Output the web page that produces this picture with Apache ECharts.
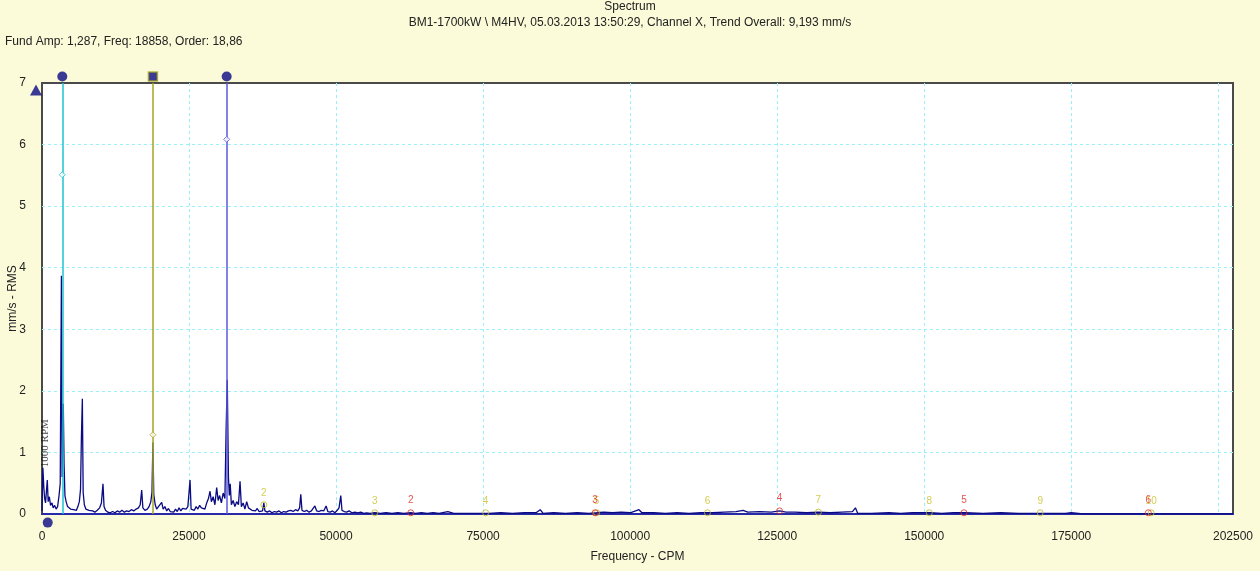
<!DOCTYPE html>
<html>
<head>
<meta charset="utf-8">
<script src="https://cdn.jsdelivr.net/npm/echarts@6/dist/echarts.min.js"></script>
<style>
  html, body { margin: 0; padding: 0; background: #FBFBD9; }
  #chart { width: 1260px; height: 571px; }
</style>
</head>
<body>
<div id="chart"></div>
<script>
// Vibration spectrum: frequency (CPM) and amplitude (mm/s RMS)
const freqCPM = [
  0, 150, 300, 450, 600, 900, 1050, 1250, 1450, 1700, 1900, 2150, 2400, 2650, 2900, 3100, 3300, 3420, 3620, 3750,
  3900, 4100, 4350, 4600, 4850, 5100, 5350, 5600, 5850, 6100, 6350, 6550, 6700, 6860, 7000, 7200, 7450, 7700, 8000, 8300,
  8600, 9000, 9400, 9800, 10100, 10370, 10550, 10800, 11200, 11600, 12000, 12400, 12800, 13200, 13600, 14000, 14400, 14800, 15200, 15600,
  16000, 16400, 16700, 16950, 17150, 17500, 17900, 18200, 18500, 18700, 18858, 19000, 19250, 19500, 19800, 20050, 20350, 20600, 20900, 21200,
  21500, 21800, 22100, 22400, 22700, 23000, 23300, 23600, 23900, 24200, 24500, 24800, 25170, 25350, 25600, 25900, 26200, 26500, 26800, 27100,
  27400, 27700, 28000, 28300, 28570, 28800, 29100, 29400, 29700, 29950, 30200, 30500, 30800, 31100, 31300, 31500, 31700, 31850, 32000, 32200,
  32500, 32800, 33100, 33400, 33670, 33900, 34200, 34500, 34800, 35100, 35400, 35700, 36000, 36300, 36600, 36900, 37200, 37500, 37716, 37900,
  38300, 38700, 39100, 39500, 39900, 40300, 40700, 41100, 41500, 41900, 42300, 42700, 43100, 43500, 43800, 44000, 44200, 44600, 45000, 45400,
  45800, 46100, 46400, 46700, 47100, 47500, 47900, 48300, 48600, 49000, 49400, 49800, 50200, 50500, 50800, 51000, 51400, 51800, 52200, 52700,
  53200, 53700, 54200, 54700, 55200, 55800, 56574, 57500, 58500, 59500, 60500, 61500, 62700, 63500, 64500, 65500, 66500, 67500, 69000, 70000,
  72000, 74000, 76000, 78000, 80000, 82000, 84000, 84700, 85200, 87000, 89000, 91000, 93000, 94300, 95500, 97000, 98500, 100000, 101500, 102000,
  104000, 106000, 108000, 110000, 112000, 114000, 116000, 118000, 119200, 120000, 122000, 124000, 125400, 126500, 128000, 130000, 132000, 134000, 136000, 137800,
  138300, 138700, 141000, 144000, 146000, 148000, 151000, 153000, 155000, 157000, 160000, 163000, 166000, 170000, 174000, 175000, 177000, 202500
];
const ampRMS = [
  0.05, 0.75, 0.45, 0.25, 0.18, 0.55, 0.20, 0.28, 0.14, 0.18, 0.10, 0.14, 0.08, 0.12, 0.30, 0.50, 3.87, 0.60, 1.79, 0.82,
  0.30, 0.20, 0.12, 0.15, 0.08, 0.10, 0.07, 0.09, 0.06, 0.12, 0.20, 0.40, 1.24, 1.87, 0.35, 0.15, 0.08, 0.05, 0.06, 0.04,
  0.05, 0.03, 0.06, 0.10, 0.18, 0.49, 0.12, 0.06, 0.03, 0.02, 0.04, 0.02, 0.05, 0.03, 0.06, 0.03, 0.05, 0.04, 0.07, 0.05,
  0.08, 0.10, 0.15, 0.39, 0.10, 0.06, 0.08, 0.12, 0.20, 0.35, 1.16, 0.32, 0.15, 0.08, 0.12, 0.10, 0.19, 0.08, 0.12, 0.05,
  0.09, 0.04, 0.07, 0.03, 0.08, 0.04, 0.10, 0.05, 0.09, 0.06, 0.08, 0.12, 0.55, 0.08, 0.10, 0.06, 0.12, 0.08, 0.14, 0.10,
  0.13, 0.08, 0.18, 0.25, 0.37, 0.20, 0.28, 0.15, 0.43, 0.22, 0.30, 0.18, 0.34, 0.25, 1.35, 2.18, 0.60, 0.30, 0.49, 0.15,
  0.22, 0.12, 0.20, 0.15, 0.53, 0.12, 0.18, 0.08, 0.20, 0.10, 0.12, 0.06, 0.08, 0.05, 0.09, 0.04, 0.06, 0.05, 0.18, 0.05,
  0.03, 0.05, 0.02, 0.04, 0.03, 0.05, 0.02, 0.04, 0.03, 0.05, 0.06, 0.04, 0.07, 0.05, 0.10, 0.32, 0.06, 0.04, 0.06, 0.03,
  0.05, 0.08, 0.13, 0.05, 0.04, 0.06, 0.05, 0.13, 0.04, 0.03, 0.05, 0.02, 0.06, 0.10, 0.30, 0.06, 0.04, 0.03, 0.05, 0.02,
  0.03, 0.02, 0.03, 0.01, 0.02, 0.01, 0.02, 0.01, 0.02, 0.01, 0.02, 0.01, 0.02, 0.01, 0.02, 0.01, 0.02, 0.01, 0.04, 0.01,
  0.01, 0.01, 0.01, 0.02, 0.01, 0.02, 0.02, 0.07, 0.01, 0.02, 0.01, 0.02, 0.01, 0.02, 0.03, 0.02, 0.03, 0.02, 0.07, 0.02,
  0.02, 0.01, 0.02, 0.01, 0.02, 0.02, 0.03, 0.04, 0.06, 0.03, 0.04, 0.03, 0.05, 0.03, 0.03, 0.02, 0.03, 0.02, 0.03, 0.04,
  0.10, 0.01, 0.01, 0.02, 0.01, 0.02, 0.02, 0.01, 0.02, 0.02, 0.01, 0.02, 0.01, 0.01, 0.01, 0.02, 0.00, 0.00
];

// Cursors
const fundAmp = 1.287;
const fundFreq = 18858;
const cursorFreqs = [3450, 18858, 31400];
const cursorColors = ['#1EC3D2', '#A5A524', '#5A5ADC'];
const cursorDiamondAmps = [5.51, fundAmp, 6.085];

// Harmonic markers
const oliveOrders = [2, 3, 4, 5, 6, 7, 8, 9, 10];
const oliveFreqs = [37716, 56574, 75432, 94290, 113148, 132006, 150864, 169722, 188580];
const oliveAmps = [0.15, 0.02, 0.02, 0.02, 0.02, 0.03, 0.02, 0.02, 0.02];
const redOrders = [2, 3, 4, 5, 6];
const redFreqs = [62700, 94050, 125400, 156750, 188100];
const redAmps = [0.02, 0.02, 0.05, 0.02, 0.02];

// Axis ticks
const yTicks = [0, 1, 2, 3, 4, 5, 6, 7];
const xTickStep = 25000;
const xMax = 202500;

const FONT = 'Liberation Sans, Arial, sans-serif';
const NAVY = '#0A0A82';

const chart = echarts.init(document.getElementById('chart'), null, { renderer: 'canvas' });

const spectrum = freqCPM.map((f, i) => [f, ampRMS[i]]);

const option = {
  animation: false,
  backgroundColor: '#FBFBD9',
  textStyle: { fontFamily: FONT },
  title: [
    {
      text: 'Spectrum',
      subtext: 'BM1-1700kW \\ M4HV, 05.03.2013 13:50:29, Channel X, Trend Overall: 9,193 mm/s',
      left: 'center', top: 0, itemGap: 1, padding: 0,
      textStyle: { fontSize: 12, fontWeight: 'normal', color: '#222', fontFamily: FONT, lineHeight: 14 },
      subtextStyle: { fontSize: 12, color: '#222', fontFamily: FONT, lineHeight: 16 }
    },
    {
      text: 'Fund Amp: 1,287, Freq: ' + fundFreq + ', Order: 18,86',
      left: 5, top: 36, padding: 0,
      textStyle: { fontSize: 12, fontWeight: 'normal', color: '#222', fontFamily: FONT }
    }
  ],
  grid: {
    left: 42, right: 27, top: 83, bottom: 57,
    outerBoundsMode: 'none', containLabel: false,
    show: true, backgroundColor: '#FFFFFF', borderColor: '#4A4A4A', borderWidth: 2
  },
  xAxis: {
    type: 'value', min: 0, max: xMax, interval: xTickStep,
    name: 'Frequency - CPM', nameLocation: 'middle', nameGap: 37, nameMoveOverlap: false,
    nameTextStyle: { fontSize: 12, color: '#222' },
    axisLine: { show: true, onZero: false, lineStyle: { color: '#2A2AA8', width: 2 } },
    axisTick: { show: false },
    axisLabel: {
      margin: 17, fontSize: 12, color: '#222', showMaxLabel: true,
      formatter: v => (v === 200000 ? '' : String(v))
    },
    splitLine: { show: true, showMinLine: false, showMaxLine: false, lineStyle: { color: '#9AF0FA', type: [3, 3], width: 1 } }
  },
  yAxis: {
    type: 'value', min: yTicks[0], max: yTicks[yTicks.length - 1], interval: 1,
    name: 'mm/s - RMS', nameLocation: 'middle', nameGap: 23, nameRotate: 90, nameMoveOverlap: false,
    nameTextStyle: { fontSize: 12, color: '#222' },
    axisLine: { show: false },
    axisTick: { show: false },
    axisLabel: { margin: 16, fontSize: 12, color: '#222' },
    splitLine: { show: true, showMinLine: false, showMaxLine: false, lineStyle: { color: '#9AF0FA', type: [3, 3], width: 1 } }
  },
  series: [
    {
      // cursor lines
      type: 'line', data: [], z: 2, silent: true,
      markLine: {
        symbol: 'none', silent: true, animation: false,
        label: { show: false },
        data: cursorFreqs.map((f, i) => ({ xAxis: f, lineStyle: { color: cursorColors[i], width: 1.5, type: 'solid' } }))
      }
    },
    {
      name: 'spectrum', type: 'line', data: spectrum, z: 3,
      symbol: 'none', showSymbol: false,
      lineStyle: { color: NAVY, width: 1.3 }
    },
    {
      // small diamonds on cursors
      type: 'scatter', z: 5, clip: false,
      data: cursorFreqs.map((f, i) => ({
        value: [f, cursorDiamondAmps[i]],
        itemStyle: { color: '#FFFFFF', borderColor: cursorColors[i], borderWidth: 1 }
      })),
      symbol: 'diamond', symbolSize: 6
    },
    {
      // cursor handles around the plot
      type: 'scatter', z: 6, clip: false,
      data: [
        { value: [cursorFreqs[0], 7.105], symbol: 'circle', symbolSize: 10, itemStyle: { color: NAVY } },
        { value: [cursorFreqs[1], 7.105], symbol: 'rect', symbolSize: 9, itemStyle: { color: NAVY, borderColor: '#A5A524', borderWidth: 1.5 } },
        { value: [cursorFreqs[2], 7.105], symbol: 'circle', symbolSize: 10, itemStyle: { color: NAVY } },
        { value: [-1020, 6.885], symbol: 'triangle', symbolSize: [12, 11], itemStyle: { color: NAVY } },
        { value: [970, -0.14], symbol: 'circle', symbolSize: 10, itemStyle: { color: NAVY } }
      ]
    },
    {
      // running speed tag
      type: 'scatter', z: 6, clip: false, symbolSize: 0,
      data: [[510, 1.15]],
      label: {
        show: true, position: 'inside', rotate: 90, formatter: '1000 RPM',
        fontFamily: 'Liberation Serif, Times New Roman, serif', fontSize: 11, color: '#111'
      }
    },
    {
      // harmonics of the fundamental
      type: 'scatter', z: 7, clip: false,
      data: oliveFreqs.map((f, i) => ({ value: [f, oliveAmps[i]], name: String(oliveOrders[i]) })),
      symbol: 'circle', symbolSize: 6,
      itemStyle: { color: 'rgba(0,0,0,0)', borderColor: '#BDB820', borderWidth: 1 },
      label: { show: true, position: 'top', distance: 3, formatter: p => p.name, fontSize: 10, color: '#C8C228' }
    },
    {
      // harmonics of the second cursor
      type: 'scatter', z: 8, clip: false,
      data: redFreqs.map((f, i) => ({ value: [f, redAmps[i]], name: String(redOrders[i]) })),
      symbol: 'circle', symbolSize: 6,
      itemStyle: { color: 'rgba(0,0,0,0)', borderColor: '#E02828', borderWidth: 1 },
      label: { show: true, position: 'top', distance: 4, formatter: p => p.name, fontSize: 10, color: '#E02828' }
    }
  ]
};

chart.setOption(option);
</script>
</body>
</html>
